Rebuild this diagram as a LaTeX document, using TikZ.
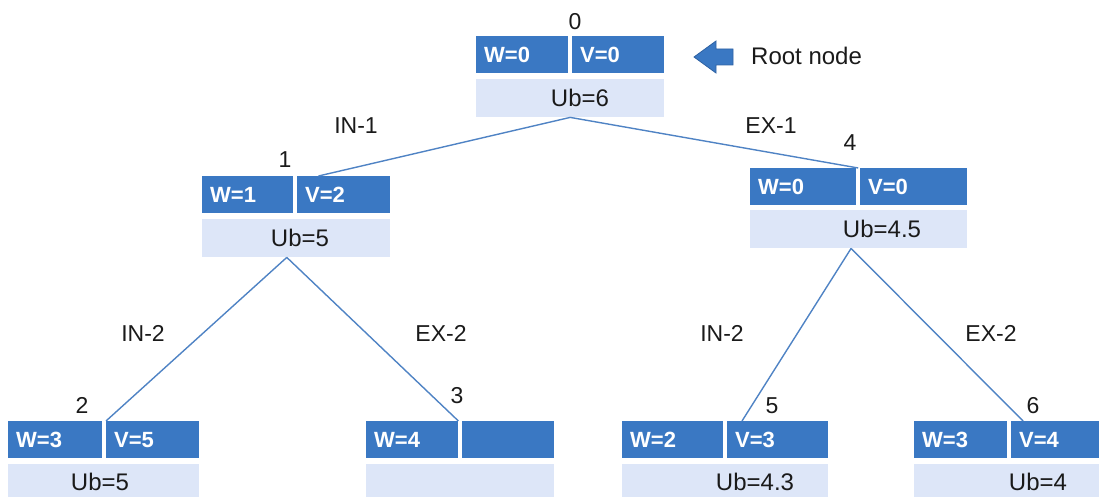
\documentclass[tikz,border=0pt]{standalone}
\usepackage{fontspec}
\setmainfont{Liberation Sans}
\usetikzlibrary{calc}
\definecolor{dkblue}{HTML}{3A78C3}
\definecolor{ltblue}{HTML}{DDE6F8}
\definecolor{lnblue}{HTML}{4F83C4}
\definecolor{arrline}{HTML}{2F62A3}
\definecolor{txt}{HTML}{1A1A1A}
\begin{document}
\begin{tikzpicture}[x=1pt,y=-1pt,
  cellwv/.style={fill=dkblue, text=white, font=\fontsize{22}{24}\selectfont\bfseries,
    inner xsep=8pt, inner ysep=0pt, minimum height=37pt, anchor=north west, align=left},
  ubcell/.style={fill=ltblue, inner sep=0pt, minimum height=38pt, anchor=north west},
  ubtext/.style={text=txt, font=\fontsize{24}{26}\selectfont, inner sep=0pt},
  numtext/.style={text=txt, font=\fontsize{23}{25}\selectfont, inner sep=0pt},
  lbltext/.style={text=txt, font=\fontsize{23}{25}\selectfont, inner sep=0pt},
  edge/.style={draw=lnblue, line width=1.4pt}]
\useasboundingbox (0,0) rectangle (1099,497);
\clip (0,0) rectangle (1099,497);

% root node 0
\node[cellwv, text width=76pt] (r-w) at (476,36) {W=0};
\node[cellwv, text width=76pt] (r-v) at (572,36) {V=0};
\node[ubcell, minimum width=188pt] (r-ub) at (476,79) {};
\node[ubtext] (r-ubt) at (580,98) {Ub=6};
\node[numtext] (r-num) at (575,22) {0};

% node 1
\node[cellwv, text width=75pt] (a-w) at (202,176) {W=1};
\node[cellwv, text width=77pt] (a-v) at (297,176) {V=2};
\node[ubcell, minimum width=188pt] (a-ub) at (202,219) {};
\node[ubtext] (a-ubt) at (300,238) {Ub=5};
\node[numtext] (a-num) at (285,160) {1};

% node 4
\node[cellwv, text width=90pt] (d-w) at (750,168) {W=0};
\node[cellwv, text width=91pt] (d-v) at (860,168) {V=0};
\node[ubcell, minimum width=217pt] (d-ub) at (750,210) {};
\node[ubtext] (d-ubt) at (882,229) {Ub=4.5};
\node[numtext] (d-num) at (850,143) {4};

% node 2
\node[cellwv, text width=78pt] (b-w) at (8,421) {W=3};
\node[cellwv, text width=77pt] (b-v) at (106,421) {V=5};
\node[ubcell, minimum width=191pt] (b-ub) at (8,464) {};
\node[ubtext] (b-ubt) at (100,482) {Ub=5};
\node[numtext] (b-num) at (82,405) {2};

% node 3
\node[cellwv, text width=76pt] (c-w) at (366,421) {W=4};
\node[cellwv, text width=76pt] (c-v) at (462,421) {};
\node[ubcell, minimum width=188pt] (c-ub) at (366,464) {};
\node[numtext] (c-num) at (457,396) {3};

% node 5
\node[cellwv, text width=85pt] (e-w) at (622,421) {W=2};
\node[cellwv, text width=85pt] (e-v) at (727,421) {V=3};
\node[ubcell, minimum width=206pt] (e-ub) at (622,464) {};
\node[ubtext] (e-ubt) at (755,482) {Ub=4.3};
\node[numtext] (e-num) at (772,406) {5};

% node 6
\node[cellwv, text width=77pt] (f-w) at (914,421) {W=3};
\node[cellwv, text width=84pt] (f-v) at (1011,421) {V=4};
\node[ubcell, minimum width=190pt] (f-ub) at (914,464) {};
\node[ubtext] (f-ubt) at (1038,482) {Ub=4};
\node[numtext] (f-num) at (1033,406) {6};

% edges
\draw[edge] (r-ub.south) -- ($(a-v.north west)!0.23!(a-v.north east)$);
\draw[edge] (r-ub.south) -- ($(d-w.north east)!0.5!(d-v.north west)$);
\draw[edge] ($(a-ub.south west)!0.45!(a-ub.south east)$) -- (b-v.north west);
\draw[edge] ($(a-ub.south west)!0.45!(a-ub.south east)$) -- (c-w.north east);
\draw[edge] ($(d-ub.south west)!0.465!(d-ub.south east)$) -- ($(e-v.north west)+(15,0)$);
\draw[edge] ($(d-ub.south west)!0.465!(d-ub.south east)$) -- ($(f-v.north west)+(12,0)$);

% edge labels
\node[lbltext] (l-in1) at (356,126) {IN-1};
\node[lbltext] (l-ex1) at (771,126) {EX-1};
\node[lbltext] (l-in2a) at (143,333) {IN-2};
\node[lbltext] (l-ex2a) at (441,333) {EX-2};
\node[lbltext] (l-in2b) at (722,333) {IN-2};
\node[lbltext] (l-ex2b) at (991,333) {EX-2};

% root pointer
\draw[fill=dkblue, draw=arrline, line width=0.8pt]
  (694,57) -- (716,41) -- (716,49) -- (733,49) -- (733,65) -- (716,65) -- (716,73) -- cycle;
\node[lbltext, anchor=west, font=\fontsize{24}{26}\selectfont] (rootlbl) at (751,56) {Root node};
\end{tikzpicture}
\end{document}
